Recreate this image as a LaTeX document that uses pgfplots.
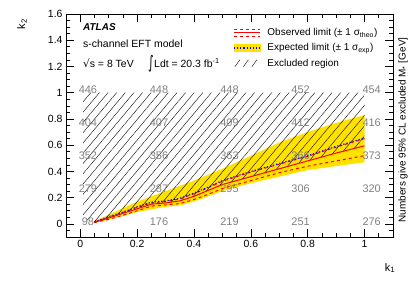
\documentclass[border=0pt]{standalone}
\usepackage{fontspec}
\setmainfont{Liberation Sans}
\newfontfamily\dejavu{DejaVu Sans}
\usepackage{graphicx}
\usepackage{pgfplots}
\pgfplotsset{compat=1.18}
\usetikzlibrary{patterns.meta}
\definecolor{band}{RGB}{255,226,0}
\definecolor{numgray}{RGB}{128,128,128}
\tikzset{hatch/.style={pattern={Lines[angle=50,distance=6.6bp,line width=0.4pt]},pattern color=black},
  numlab/.style={numgray, font=\fontsize{11}{13}\selectfont}}
\begin{document}
\begin{tikzpicture}
\useasboundingbox (-66bp,-46bp) rectangle (349bp,237bp);
\begin{axis}[
  at={(0,0)}, anchor=south west,
  scale only axis, width=327bp, height=223bp,
  xmin=-0.05, xmax=1.1, ymin=-0.1, ymax=1.6,
  xtick={0,0.2,0.4,0.6,0.8,1},
  ytick={0,0.2,0.4,0.6,0.8,1,1.2,1.4,1.6},
  minor xtick={0,0.05,...,1.1},
  minor ytick={-0.1,-0.05,...,1.6},
  tick align=inside,
  major tick length=8bp, minor tick length=4bp,
  axis line style={line width=0.8pt},
  every tick/.style={black, line width=0.6pt},
  ticklabel style={font=\fontsize{10.5}{12}\selectfont},
  /pgf/number format/assume math mode=true,
  legend cell align=left,
  legend style={at={(0.511,0.945)}, anchor=north west, draw=none, fill=none,
    inner sep=0pt, row sep=2.5bp, font=\fontsize{10}{12}\selectfont,
    /tikz/every odd column/.style={column sep=5bp}},
]
% expected band (+-1 sigma exp)
\addplot[fill=band, draw=none, forget plot] coordinates {
(0.05,0.02) (0.1,0.07) (0.2,0.17) (0.3,0.25) (0.4,0.33) (0.5,0.42) (0.6,0.52) (0.7,0.62) (0.8,0.70) (0.9,0.77) (1.0,0.83)
(1.0,0.47) (0.9,0.44) (0.8,0.41) (0.7,0.36) (0.6,0.31) (0.5,0.25) (0.4,0.17) (0.35,0.14) (0.3,0.13) (0.2,0.09) (0.1,0.03) (0.05,0.008)
};
% excluded region
\addplot[hatch, draw=none, forget plot] coordinates {
(0.01,1.0) (0.01,0.04) (0.05,0.012) (0.1,0.045) (0.15,0.08) (0.2,0.115) (0.25,0.15) (0.3,0.16) (0.35,0.175) (0.4,0.21) (0.45,0.255) (0.5,0.30) (0.6,0.36) (0.7,0.42) (0.8,0.48) (0.9,0.54) (1.0,0.595) (1.0,1.0)
};
% theory band
\addplot[red, dashed, line width=1pt, forget plot] coordinates {
(0.05,0.01) (0.1,0.035) (0.15,0.065) (0.2,0.10) (0.25,0.135) (0.3,0.145) (0.35,0.155) (0.4,0.185) (0.45,0.225) (0.5,0.27) (0.6,0.33) (0.7,0.39) (0.8,0.44) (0.9,0.48) (1.0,0.52)
};
\addplot[red, dashed, line width=1pt, forget plot] coordinates {
(0.05,0.014) (0.1,0.052) (0.15,0.087) (0.2,0.126) (0.25,0.16) (0.3,0.17) (0.35,0.19) (0.4,0.23) (0.45,0.275) (0.5,0.325) (0.6,0.395) (0.7,0.455) (0.8,0.515) (0.9,0.585) (1.0,0.65)
};
% observed
\addplot[red, line width=1pt, forget plot] coordinates {
(0.05,0.012) (0.1,0.045) (0.15,0.08) (0.2,0.115) (0.25,0.15) (0.3,0.16) (0.35,0.175) (0.4,0.21) (0.45,0.255) (0.5,0.30) (0.6,0.36) (0.7,0.42) (0.8,0.48) (0.9,0.54) (1.0,0.595)
};
% expected
\addplot[blue, dotted, line width=1.2pt, forget plot] coordinates {
(0.05,0.015) (0.1,0.055) (0.15,0.09) (0.2,0.13) (0.25,0.165) (0.3,0.175) (0.35,0.195) (0.4,0.235) (0.45,0.28) (0.5,0.33) (0.6,0.40) (0.7,0.46) (0.8,0.52) (0.9,0.59) (1.0,0.655)
};
% numbers
\node[numlab] at (axis cs:0.027,1.02) {446};
\node[numlab] at (axis cs:0.277,1.02) {448};
\node[numlab] at (axis cs:0.525,1.02) {448};
\node[numlab] at (axis cs:0.775,1.02) {452};
\node[numlab] at (axis cs:1.025,1.02) {454};
\node[numlab] at (axis cs:0.027,0.77) {404};
\node[numlab] at (axis cs:0.277,0.77) {407};
\node[numlab] at (axis cs:0.525,0.77) {409};
\node[numlab] at (axis cs:0.775,0.77) {412};
\node[numlab] at (axis cs:1.025,0.77) {416};
\node[numlab] at (axis cs:0.027,0.52) {352};
\node[numlab] at (axis cs:0.277,0.52) {356};
\node[numlab] at (axis cs:0.525,0.52) {363};
\node[numlab] at (axis cs:0.775,0.52) {366};
\node[numlab] at (axis cs:1.025,0.52) {373};
\node[numlab] at (axis cs:0.027,0.27) {279};
\node[numlab] at (axis cs:0.277,0.27) {287};
\node[numlab] at (axis cs:0.525,0.27) {295};
\node[numlab] at (axis cs:0.775,0.27) {306};
\node[numlab] at (axis cs:1.025,0.27) {320};
\node[numlab] at (axis cs:0.027,0.02) {98};
\node[numlab] at (axis cs:0.277,0.02) {176};
\node[numlab] at (axis cs:0.525,0.02) {219};
\node[numlab] at (axis cs:0.775,0.02) {251};
\node[numlab] at (axis cs:1.025,0.02) {276};
\addlegendimage{legend image code/.code={
  \draw[red, dashed, line width=0.9pt] (0bp,3.2bp) -- (26bp,3.2bp);
  \draw[red, line width=0.9pt] (0bp,0bp) -- (26bp,0bp);
  \draw[red, dashed, line width=0.9pt] (0bp,-3.2bp) -- (26bp,-3.2bp);}}
\addlegendentry{Observed limit (± 1 σ\textsubscript{theo})}
\addlegendimage{legend image code/.code={
  \fill[band] (0bp,-3.5bp) rectangle (26bp,3.5bp);
  \draw[blue, dotted, line width=1.2pt] (0bp,0bp) -- (26bp,0bp);}}
\addlegendentry{Expected limit (± 1 σ\textsubscript{exp})}
\addlegendimage{legend image code/.code={
  \path[draw=none] (0bp,-4bp) rectangle (26bp,4bp);
  \draw[line width=0.4pt] (1bp,-3.5bp) -- (6bp,3.5bp);
  \draw[line width=0.4pt] (9.5bp,-3.5bp) -- (14.5bp,3.5bp);
  \draw[line width=0.4pt] (18bp,-3.5bp) -- (23bp,3.5bp);}}
\addlegendentry{Excluded region}
\end{axis}
\node[anchor=west, inner sep=0pt, font=\fontsize{10}{12}\selectfont\bfseries\itshape] at (17bp,210bp) {ATLAS};
\node[anchor=west, inner sep=0pt, font=\fontsize{10.5}{12}\selectfont] at (17bp,193bp) {s-channel EFT model};
\node[anchor=west, inner sep=0pt, font=\fontsize{10.5}{12}\selectfont] at (17bp,174bp) {{\dejavu √}s = 8 TeV};
\node[anchor=west, inner sep=0pt, font=\fontsize{10}{11}\selectfont] at (82bp,173bp) {\scalebox{1.1}[1.75]{\dejavu ∫}};
\node[anchor=west, inner sep=0pt, font=\fontsize{10.5}{12}\selectfont] at (88bp,174bp) {Ldt = 20.3 fb\textsuperscript{-1}};
\node[rotate=90, font=\fontsize{11}{13}\selectfont] at (-44bp,213bp) {k\textsubscript{2}};
\node[font=\fontsize{11}{13}\selectfont] at (324bp,-31bp) {k\textsubscript{1}};
\node[rotate=90, font=\fontsize{10}{12}\selectfont] at (337bp,107bp) {Numbers give 95\% CL excluded M\textsubscript{*} [GeV]};
\end{tikzpicture}
\end{document}
